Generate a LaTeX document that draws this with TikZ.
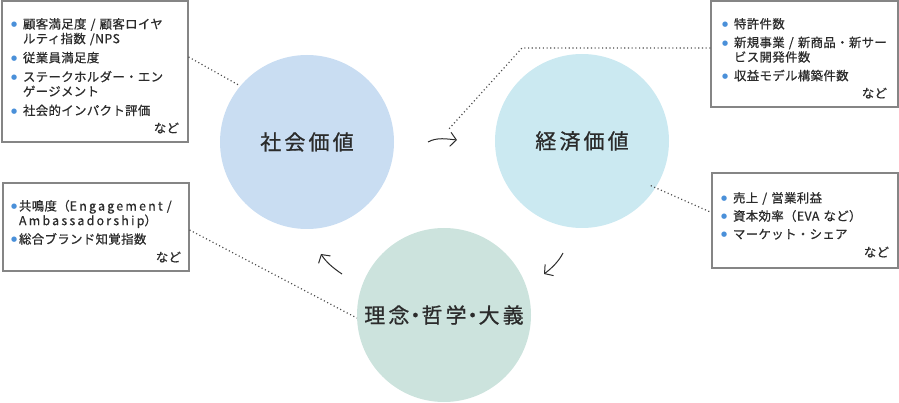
\documentclass[tikz,border=0pt]{standalone}
\usepackage{fontspec}
\usetikzlibrary{arrows.meta,calc}
\newfontfamily\jp[LetterSpace=3,FakeBold=0.6]{Noto Sans CJK JP}
\newfontfamily\jpwide[LetterSpace=15,FakeBold=0.8]{Noto Sans CJK JP}
\newfontfamily\symf{DejaVu Sans}
\definecolor{ink}{HTML}{2B2B2B}
\definecolor{socfill}{HTML}{C9DDF2}
\definecolor{ecofill}{HTML}{CBE9F1}
\definecolor{philfill}{HTML}{CCE3DD}
\definecolor{frame}{HTML}{858585}
\definecolor{bulc}{HTML}{4A90D9}
\colorlet{dotc}{black!70}
\tikzset{
    valcirc/.style={circle,inner sep=0pt,minimum size=174pt,text=ink,font=\jpwide\fontsize{21}{21}\selectfont},
    valbox/.style={draw=frame,line width=1.2pt,text=ink,align=left,inner xsep=9pt,font=\jp\fontsize{12.4}{14.6}\selectfont},
    link/.style={dotc,line width=1.2pt,dash pattern=on 1.1pt off 2.6pt},
    flow/.style={ink,line width=1pt,-{Straight Barb[length=6pt,width=14pt]}}
}
\newcommand\bul[1][12pt]{\makebox[#1][l]{\textcolor{bulc}{\symf\fontsize{7}{7}\selectfont\raisebox{1.8pt}{●}}}}
\newcommand\topgap{\rule{0pt}{19pt}}
\newcommand\mdot{\kern-4.5pt・\kern-4.5pt}

\begin{document}
\begin{tikzpicture}[x=1pt,y=-1pt]
            \useasboundingbox (0,0) rectangle (899,403);
            % value circles
            \node [valcirc,fill=socfill] (soc) at (307,142) {社会価値};
            \node [valcirc,fill=ecofill] (eco) at (582,141) {経済価値};
            \node [valcirc,fill=philfill] (phil) at (444,315) {理念\mdot 哲学\mdot 大義};
            % indicator boxes
            \node [valbox,text width=168pt,minimum height=141pt] (socbox) at (95,71.5) {%
                \topgap\bul 顧客満足度 / 顧客ロイヤ\\
                \hspace*{12pt}ルティ指数 /NPS\\[4.5pt]
                \bul 従業員満足度\\[4.5pt]
                \bul ステークホルダー・エン\\
                \hspace*{12pt}ゲージメント\\[4.5pt]
                \bul 社会的インパクト評価\\[3pt]
                \hspace*{\fill}など};
            \node [valbox,inner xsep=11pt,text width=165pt,minimum height=106pt] (ecobox) at (804.5,54) {%
                \topgap\bul 特許件数\\[4pt]
                \bul 新規事業 / 新商品・新サー\\
                \hspace*{12pt}ビス開発件数\\[4pt]
                \bul 収益モデル構築件数\\[3pt]
                \hspace*{\fill}など};
            \node [valbox,text width=168pt,minimum height=95pt] (salesbox) at (805,220.5) {%
                \topgap\bul 売上 / 営業利益\\[3.5pt]
                \bul 資本効率（EVA など）\\[3.5pt]
                \bul マーケット・シェア\\[3.5pt]
                \hspace*{\fill}など};
            \node [valbox,inner xsep=8pt,text width=170pt,minimum height=88pt] (brandbox) at (96,227) {%
                \topgap\bul[8pt]共鳴度（{\addfontfeature{LetterSpace=18}Engagement /}\\
                \hspace*{8pt}{\addfontfeature{LetterSpace=18}Ambassadorship}）\\[4pt]
                \bul[8pt]総合ブランド知覚指数\\[3.5pt]
                \hspace*{\fill}など};
            % dotted leaders
            \coordinate (ecobend) at (522,48);
            \coordinate (ecoend) at (448,130);
            \coordinate (ecoin) at ($(eco.center)!0.94!(eco.-33)$);
            \draw [link] ([yshift=14.5pt]socbox.east) -- (soc.140);
            \draw [link] ([yshift=6pt]ecobox.west) -- (ecobend) -- (ecoend);
            \draw [link] (ecoin) -- ([yshift=8pt]salesbox.west);
            \draw [link] ([yshift=-3pt]brandbox.east) -- ([yshift=-3pt]phil.west);
            % cycle arrows
            \coordinate (f1a) at (428,142);
            \coordinate (f1b) at (457,140);
            \coordinate (f2a) at (563,253);
            \coordinate (f2b) at (544,274);
            \coordinate (f3a) at (342,274);
            \coordinate (f3b) at (321,254);
            \draw [flow] (f1a) .. controls (437,137) and (447,139) .. (f1b);
            \draw [flow] (f2a) .. controls (559,261) and (552,268) .. (f2b);
            \draw [flow] (f3a) .. controls (333,268) and (326,262) .. (f3b);
\end{tikzpicture}
\end{document}
